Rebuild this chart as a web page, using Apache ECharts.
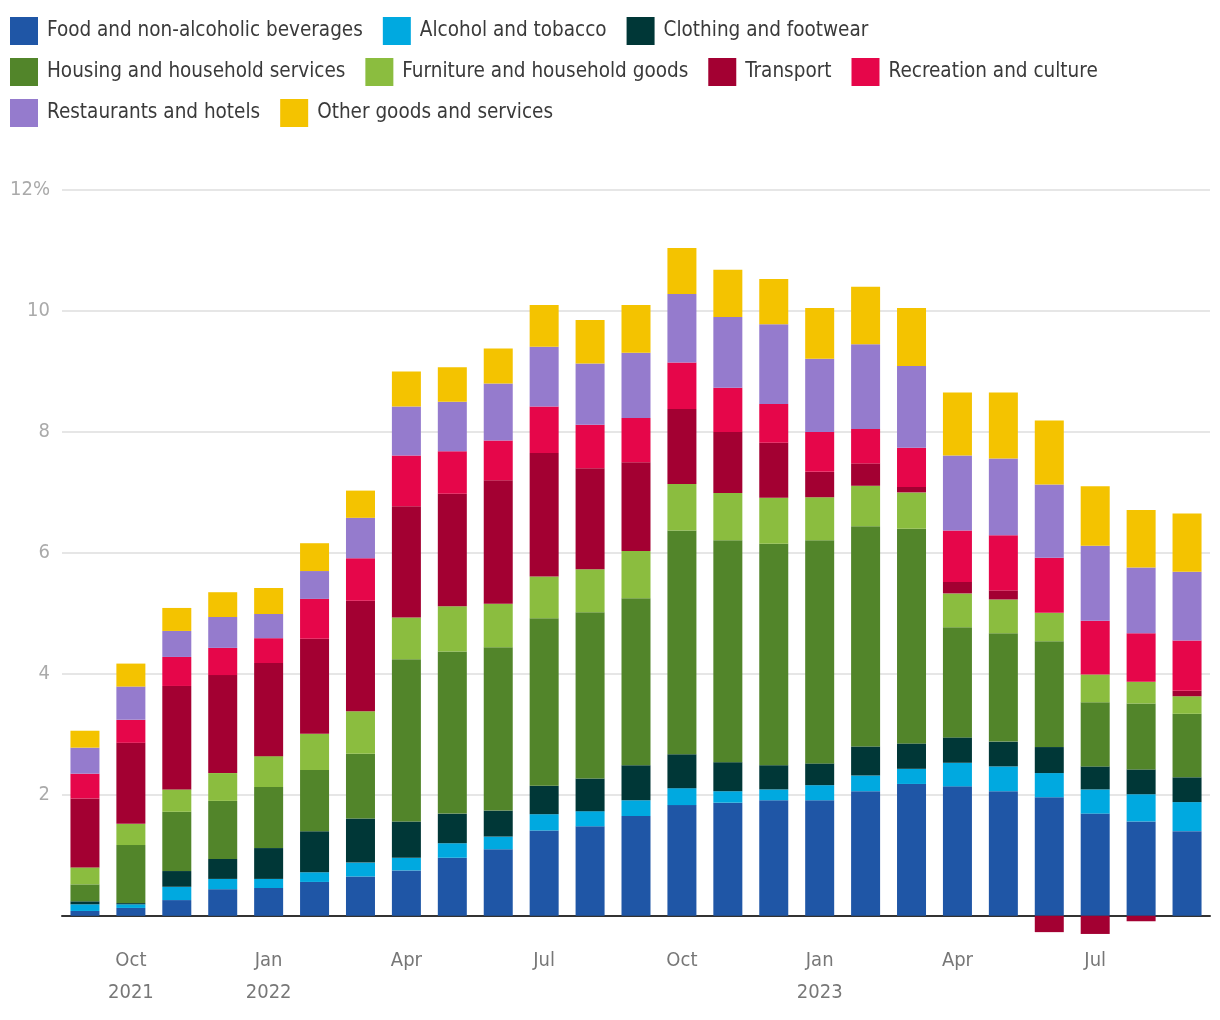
<!DOCTYPE html>
<html>
<head>
<meta charset="utf-8">
<script src="https://cdn.jsdelivr.net/npm/echarts@6/dist/echarts.min.js"></script>
<style>
html,body{margin:0;padding:0;background:#fff;}
#chart{width:1220px;height:1020px;}
</style>
</head>
<body>
<div id="chart"></div>
<script>
var categories = ['Sep 2021','Oct 2021','Nov 2021','Dec 2021','Jan 2022','Feb 2022','Mar 2022','Apr 2022','May 2022','Jun 2022','Jul 2022','Aug 2022','Sep 2022','Oct 2022','Nov 2022','Dec 2022','Jan 2023','Feb 2023','Mar 2023','Apr 2023','May 2023','Jun 2023','Jul 2023','Aug 2023','Sep 2023'];
var tickLabels = ['', 'Oct\n2021', '', '', 'Jan\n2022', '', '', 'Apr', '', '', 'Jul', '', '', 'Oct', '', '', 'Jan\n2023', '', '', 'Apr', '', '', 'Jul', '', ''];
var yTicks = [2, 4, 6, 8, 10, 12];
var yTickLabels = ['2', '4', '6', '8', '10', '12%'];

var seriesNames = ['Food and non-alcoholic beverages','Alcohol and tobacco','Clothing and footwear','Housing and household services','Furniture and household goods','Transport','Recreation and culture','Restaurants and hotels','Other goods and services'];

var food       = [0.08,0.13,0.26,0.44,0.46,0.56,0.65,0.75,0.96,1.10,1.41,1.48,1.65,1.83,1.87,1.91,1.91,2.06,2.18,2.14,2.06,1.96,1.69,1.56,1.40];
var alcohol    = [0.11,0.06,0.22,0.17,0.15,0.16,0.23,0.21,0.24,0.21,0.27,0.25,0.26,0.28,0.19,0.18,0.25,0.26,0.25,0.39,0.41,0.40,0.40,0.45,0.48];
var clothing   = [0.05,0.02,0.26,0.33,0.51,0.68,0.73,0.60,0.49,0.43,0.47,0.54,0.58,0.56,0.48,0.40,0.36,0.48,0.42,0.42,0.41,0.43,0.38,0.41,0.41];
var housing    = [0.28,0.96,0.98,0.96,1.01,1.01,1.07,2.68,2.68,2.70,2.77,2.75,2.76,3.70,3.67,3.66,3.69,3.64,3.55,1.82,1.79,1.75,1.06,1.09,1.05];
var furniture  = [0.28,0.35,0.37,0.46,0.51,0.60,0.70,0.69,0.75,0.72,0.69,0.71,0.78,0.77,0.78,0.76,0.71,0.67,0.60,0.56,0.56,0.47,0.46,0.36,0.29];
var transport  = [1.14,1.34,1.71,1.62,1.54,1.57,1.83,1.84,1.86,2.04,2.04,1.67,1.47,1.24,1.01,0.91,0.42,0.37,0.09,0.19,0.15,-0.27,-0.30,-0.09,0.09];
var recreation = [0.41,0.38,0.48,0.45,0.41,0.66,0.70,0.84,0.70,0.66,0.77,0.72,0.73,0.77,0.73,0.64,0.66,0.57,0.65,0.85,0.91,0.91,0.89,0.80,0.83];
var restaurants= [0.43,0.55,0.43,0.51,0.40,0.46,0.67,0.81,0.82,0.94,0.99,1.01,1.08,1.13,1.17,1.32,1.21,1.40,1.35,1.24,1.27,1.21,1.24,1.09,1.14];
var other      = [0.28,0.38,0.38,0.41,0.43,0.46,0.45,0.58,0.57,0.58,0.69,0.72,0.79,0.76,0.78,0.75,0.84,0.95,0.96,1.04,1.09,1.06,0.98,0.95,0.96];

var seriesData = [food, alcohol, clothing, housing, furniture, transport, recreation, restaurants, other];
var colors = ['#1f56a6','#00a9e0','#003737','#52852a','#8bbd3f','#a30032','#e6064a','#957bcd','#f4c300'];

var FONT = '"DejaVu Sans Condensed", "Liberation Sans Narrow", sans-serif';

var chart = echarts.init(document.getElementById('chart'), null, {renderer: 'canvas'});

var series = seriesNames.map(function (name, i) {
  return {
    name: name,
    type: 'bar',
    stack: 'total',
    barWidth: 29,
    itemStyle: {color: colors[i]},
    emphasis: {disabled: true},
    data: seriesData[i]
  };
});

chart.setOption({
  animation: false,
  backgroundColor: '#ffffff',
  color: colors,
  textStyle: {fontFamily: FONT},
  legend: {
    left: 10,
    top: 17,
    width: 1200,
    padding: 0,
    orient: 'horizontal',
    icon: 'rect',
    itemWidth: 28,
    itemHeight: 28,
    itemGap: 13,
    selectedMode: false,
    textStyle: {
      fontFamily: FONT,
      fontSize: 20.5,
      color: '#3a3a3a',
      padding: [0, 7, 0, 4],
      lineHeight: 28
    },
    data: seriesNames
  },
  grid: {
    left: 62,
    right: 10,
    top: 190,
    bottom: 1020 - 916 - Math.round(0.4 * 60.5),
    containLabel: false,
    outerBoundsMode: 'none'
  },
  xAxis: {
    type: 'category',
    data: categories,
    axisLine: {onZero: true, lineStyle: {color: '#333333', width: 2}},
    axisTick: {show: false},
    axisLabel: {
      interval: 0,
      margin: 5,
      color: '#777777',
      fontFamily: FONT,
      fontSize: 20,
      lineHeight: 32,
      formatter: function (v, idx) { return tickLabels[idx]; }
    }
  },
  yAxis: {
    type: 'value',
    min: -0.4,
    max: 12,
    splitNumber: 6,
    axisLine: {show: false},
    axisTick: {show: false},
    splitLine: {show: true, showMinLine: false, lineStyle: {color: '#e6e6e6', width: 2}},
    axisLabel: {
      margin: 12,
      color: '#aaaaaa',
      fontFamily: FONT,
      fontSize: 20,
      showMinLabel: false,
      formatter: function (v) {
        var k = yTicks.indexOf(Math.round(v * 100) / 100);
        return k >= 0 ? yTickLabels[k] : '';
      }
    }
  },
  series: series
});
</script>
</body>
</html>
